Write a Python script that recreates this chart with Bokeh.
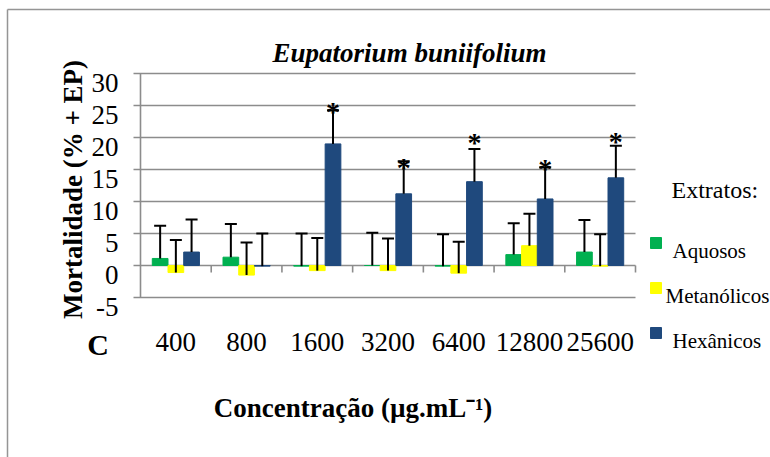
import numpy as np
from bokeh.plotting import figure
from bokeh.models import ColumnDataSource, Range1d, Whisker, TeeHead
from bokeh.core.properties import value
from bokeh.embed import file_html
from bokeh.resources import INLINE

# ---- data: mortality (%) and standard error per extract and concentration ----
concentracoes = ["400", "800", "1600", "3200", "6400", "12800", "25600"]
aquosos = [1.1, 1.3, -0.1, 0.0, -0.1, 1.7, 2.1]
aquosos_ep = [5.1, 5.2, 5.1, 5.1, 5.0, 4.9, 5.0]
metanolicos = [-1.1, -1.5, -0.8, -0.8, -1.2, 3.1, -0.1]
metanolicos_ep = [5.1, 5.1, 5.1, 5.0, 4.9, 5.0, 5.0]
hexanicos = [2.1, -0.1, 19.0, 11.2, 13.1, 10.4, 13.7]
hexanicos_ep = [5.1, 5.1, 5.2, 5.1, 5.1, 4.9, 5.0]
hexanicos_signif = [False, False, True, True, True, True, True]
y_ticks = [-5, 0, 5, 10, 15, 20, 25, 30]
series_names = ["Aquosos", "Metanólicos", "Hexânicos"]
series_colors = ["#00B050", "#FFFF00", "#1F497D"]

# ---- page layout (pixels) ----
W, H = 770, 457
FRAME_L, FRAME_R, FRAME_T, FRAME_B = 140, 635, 73, 297
Y_MIN, Y_MAX = y_ticks[0], y_ticks[-1]
n = len(concentracoes)
kx = (FRAME_R - FRAME_L) / n
ky = (FRAME_B - FRAME_T) / (Y_MAX - Y_MIN)


def X(px):
    return (px - FRAME_L) / kx


def Y(py):
    return Y_MAX - (py - FRAME_T) / ky


SERIF = value("'Liberation Serif', 'Times New Roman', serif")
GRID = "#8c8c8c"

p = figure(width=W, height=H, x_range=Range1d(X(0), X(W)), y_range=Range1d(Y(H), Y(0)),
           output_backend="svg", toolbar_location=None, min_border=0,
           x_axis_location=None, y_axis_location=None)
p.grid.visible = False
p.outline_line_color = None
p.background_fill_color = "white"
p.border_fill_color = "white"

# outer chart border
p.segment(x0=[X(7), X(7)], y0=[Y(9), Y(9)], x1=[X(7), X(W)], y1=[Y(H), Y(9)],
          line_color="#959595", line_width=1.5)

# horizontal gridlines with their outer tick marks, and the value axis line
p.segment(x0=[X(FRAME_L - 7)] * len(y_ticks), x1=[n] * len(y_ticks), y0=y_ticks, y1=y_ticks,
          line_color=GRID, line_width=1.6)
p.segment(x0=[0], x1=[0], y0=[Y_MIN], y1=[Y_MAX], line_color=GRID, line_width=1.6)

# category separators hanging below the zero line
sep = np.arange(1, n + 1)
p.segment(x0=sep, x1=sep, y0=[0] * n, y1=[-7 / ky] * n, line_color=GRID, line_width=1.6)

# bars
centers = np.arange(n) + 0.5
bw = (2 / 3) / 3
offsets = [-bw, 0.0, bw]
vals = [aquosos, metanolicos, hexanicos]
errs = [aquosos_ep, metanolicos_ep, hexanicos_ep]
for v, e, off, col in zip(vals, errs, offsets, series_colors):
    p.vbar(x=centers + off, top=v, bottom=0, width=bw, fill_color=col, line_color=col)

# positive error bars
for v, e, off in zip(vals, errs, offsets):
    src = ColumnDataSource(dict(base=centers + off, lower=v,
                                upper=[a + b for a, b in zip(v, e)]))
    wk = Whisker(source=src, base="base", lower="lower", upper="upper", dimension="height",
                 line_color="black", line_width=2, level="annotation",
                 upper_head=TeeHead(size=12, line_color="black", line_width=2),
                 lower_head=None)
    p.add_layout(wk)

# significance marks above the hexane bars
star_lift = [0, 0, 12, 7, 20, 12, 17]
sx, sy = [], []
for i, flag in enumerate(hexanicos_signif):
    if flag:
        sx.append(centers[i] + offsets[2])
        sy.append(hexanicos[i] + hexanicos_ep[i] + star_lift[i] / ky)
p.text(x=sx, y=sy, text=["*"] * len(sx), text_font=SERIF, text_font_size="28px",
       text_font_style="bold", text_align="center", text_baseline="alphabetic",
       y_offset=13, text_color="black")

# value-axis tick labels
p.text(x=[X(118)] * len(y_ticks), y=y_ticks, text=[str(t) for t in y_ticks],
       text_font=SERIF, text_font_size="27px", text_align="right",
       text_baseline="alphabetic", y_offset=9, text_color="black")

# category labels
p.text(x=centers, y=[Y(341)] * n, text=concentracoes, text_font=SERIF,
       text_font_size="27px", text_align="center", text_baseline="alphabetic",
       text_color="black")
p.text(x=[X(97.5)], y=[Y(344)], text=["C"], text_font=SERIF, text_font_size="30px",
       text_font_style="bold", text_align="center", text_baseline="alphabetic",
       text_color="black")

# titles
p.text(x=[X(409)], y=[Y(52)], text=["Eupatorium buniifolium"], text_font=SERIF,
       text_font_size="27px", text_font_style="bold italic", text_align="center",
       text_baseline="alphabetic", text_color="black")
p.text(x=[X(352.5)], y=[Y(407)], text=["Concentração (µg.mL\u207b\u00b9)"], text_font=SERIF,
       text_font_size="27px", text_font_style="bold", text_align="center",
       text_baseline="alphabetic", text_color="black")
p.text(x=[X(72)], y=[Y(189)], text=["Mortalidade (% + EP)"], text_font=SERIF,
       text_font_size="27px", text_font_style="bold", text_align="center",
       text_baseline="alphabetic", angle=np.pi / 2, text_color="black")

# legend
p.text(x=[X(671)], y=[Y(189)], text=["Extratos:"], text_font=SERIF, text_font_size="24px",
       text_align="left", text_baseline="alphabetic", text_color="black")
leg_text_x = [672, 665, 672]
leg_base = [250, 295, 340]
for name, col, tx, by in zip(series_names, series_colors, leg_text_x, leg_base):
    p.scatter(x=[X(655.5)], y=[Y(by - 7.5)], marker="square", size=11,
              fill_color=col, line_color=col)
    p.text(x=[X(tx)], y=[Y(by)], text=[name], text_font=SERIF, text_font_size="21px",
           text_align="left", text_baseline="alphabetic", text_color="black")

open("out.html", "w").write(file_html(p, INLINE))
